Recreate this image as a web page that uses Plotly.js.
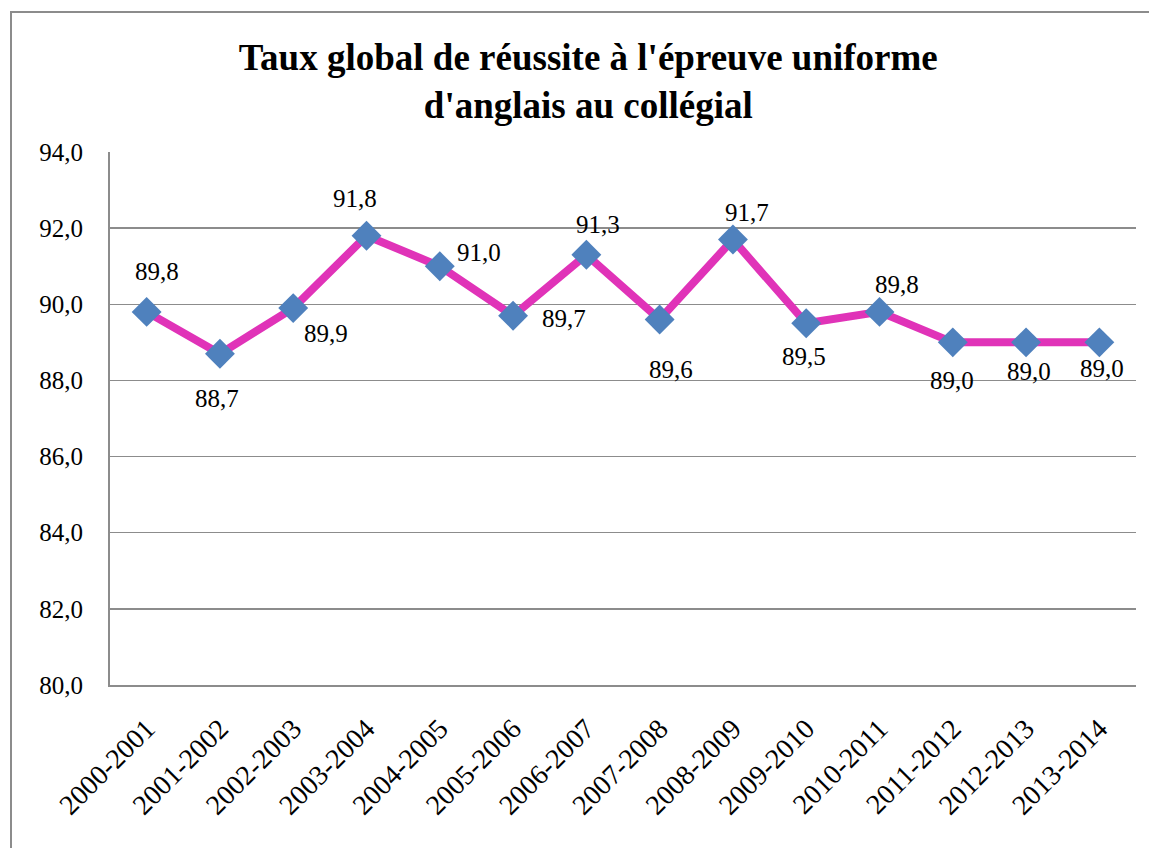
<!DOCTYPE html>
<html><head><meta charset="utf-8">
<script src="https://cdn.plot.ly/plotly-3.0.1.min.js"></script>
<style>body{margin:0;background:#fff}#c{width:1149px;height:848px}</style>
</head><body><div id="c"></div>
<script>
const years = ["2000-2001","2001-2002","2002-2003","2003-2004","2004-2005","2005-2006","2006-2007","2007-2008","2008-2009","2009-2010","2010-2011","2011-2012","2012-2013","2013-2014"];
const taux = [89.8, 88.7, 89.9, 91.8, 91.0, 89.7, 91.3, 89.6, 91.7, 89.5, 89.8, 89.0, 89.0, 89.0];
const yTicks = [80,82,84,86,88,90,92,94];
// label offsets in pixels (style only)
const labelDx = [10, -3, 33, -12, 39, 51, 12, 11, 14, -2, 17, -1, 3, 3];
const labelDy = [40, -45, -25, 37, 14, -3, 30, -50, 27, -33, 27, -38, -29, -26];

const font = "'Liberation Serif', 'Times New Roman', serif";
const fmt = v => v.toFixed(1).replace(".", ",");
const trace = {
  x: years, y: taux, type: "scatter", mode: "lines+markers",
  line: {color: "#E033B8", width: 8},
  marker: {symbol: "diamond", size: 23, color: "#4F81BD", line: {width: 0}},
  cliponaxis: false, hoverinfo: "skip"
};
const annotations = years.map((c, i) => ({
  x: c, y: taux[i], xref: "x", yref: "y", text: fmt(taux[i]), showarrow: false,
  xshift: labelDx[i], yshift: labelDy[i], xanchor: "center", yanchor: "middle",
  font: {family: font, size: 25, color: "#000"}
}));
const L = 110, R = 1136, T = 152, B = 685, W = 1149, H = 848;
const px = x => (x - L) / (R - L), py = y => (B - y) / (B - T);
const layout = {
  width: W, height: H, separators: ",\u00a0",
  margin: {l: L, r: W - R, t: T, b: H - B, pad: 0},
  paper_bgcolor: "#fff", plot_bgcolor: "#fff", showlegend: false,
  title: {text: "<b>Taux global de réussite à l'épreuve uniforme<br>d'anglais au collégial</b>",
    font: {family: font, size: 37, color: "#000"}, x: 0.512, xanchor: "center", y: 0.918, yanchor: "top"},
  xaxis: {type: "category", range: [-0.5, 13.5], tickangle: -45, tickfont: {family: font, size: 28, color: "#000"},
    showgrid: false, showline: true, linecolor: "#8c8c8c", linewidth: 2, ticks: "outside", ticklen: 14, tickcolor: "rgba(0,0,0,0)", zeroline: false},
  yaxis: {range: [80, 94], tickvals: yTicks, tickformat: ".1f", tickfont: {family: font, size: 25, color: "#000"},
    showgrid: true, gridcolor: "#8c8c8c", gridwidth: 1.5, showline: true, linecolor: "#8c8c8c", linewidth: 2,
    ticks: "outside", ticklen: 20, tickcolor: "rgba(0,0,0,0)", zeroline: false},
  annotations: annotations,
  shapes: [{type: "rect", xref: "paper", yref: "paper", x0: px(11), x1: px(1160), y0: py(860), y1: py(12),
    line: {color: "#8c8c8c", width: 2}, fillcolor: "rgba(0,0,0,0)", layer: "below"}]
};
Plotly.newPlot("c", [trace], layout, {displayModeBar: false, staticPlot: true});
</script></body></html>
